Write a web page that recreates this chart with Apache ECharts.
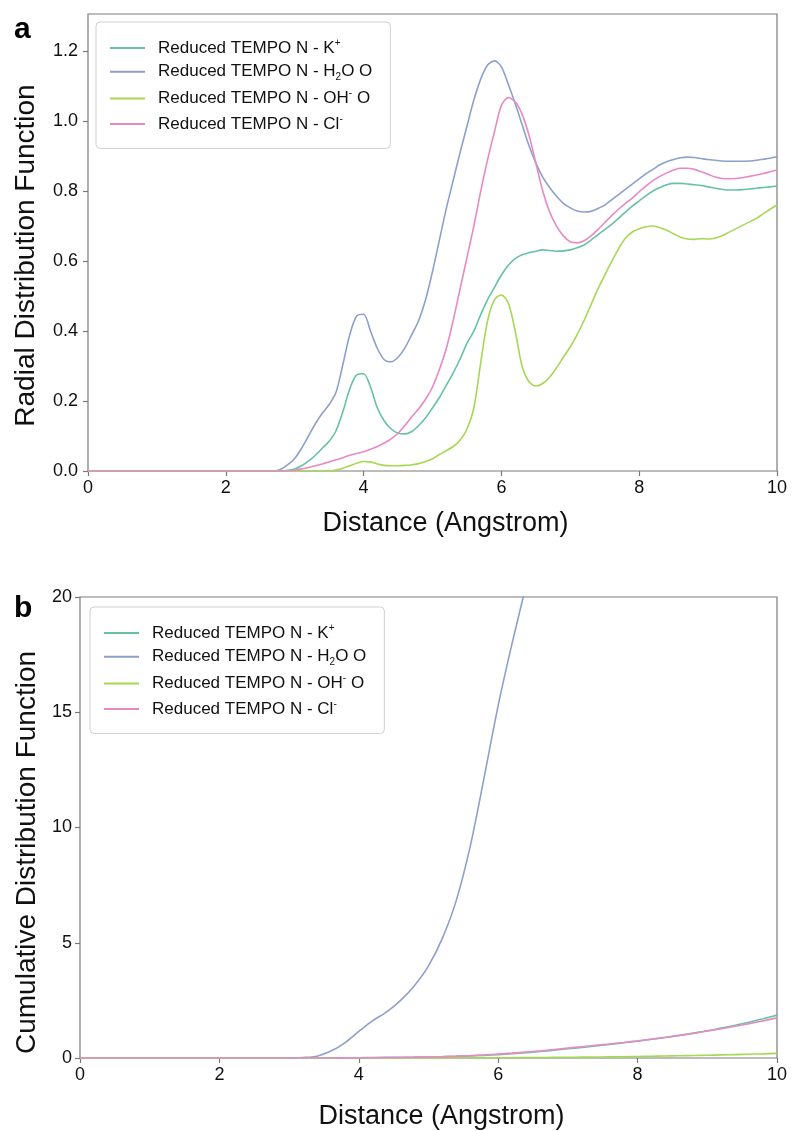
<!DOCTYPE html>
<html><head><meta charset="utf-8">
<script src="https://cdn.jsdelivr.net/npm/echarts@6/dist/echarts.min.js"></script>
<style>html,body{margin:0;padding:0;background:#fff;}#c{width:792px;height:1131px;}</style>
</head><body><div id="c"></div>
<script>
// ---------- data ----------
const seriesNames = ['Reduced TEMPO N - K+', 'Reduced TEMPO N - H2O O', 'Reduced TEMPO N - OH- O', 'Reduced TEMPO N - Cl-'];
const legendLabels = ['{t|Reduced TEMPO N - K}{sup|+}', '{t|Reduced TEMPO N - H}{sub|2}{t|O O}', '{t|Reduced TEMPO N - OH}{sup|-}{t| O}', '{t|Reduced TEMPO N - Cl}{sup|-}'];
const seriesColors = ['#66c2a5', '#8da0cb', '#a6d854', '#e78ac3'];

const xTicks = [0, 2, 4, 6, 8, 10];
const rdfTicks = [0, 0.2, 0.4, 0.6, 0.8, 1.0, 1.2];
const cdfTicks = [0, 5, 10, 15, 20];

const rdfDistance = [0,
  2.5, 2.6, 2.7, 2.8, 2.9,
  3.0, 3.1, 3.2, 3.3, 3.4, 3.5, 3.6, 3.7, 3.8, 3.9,
  4.0, 4.1, 4.2, 4.3, 4.4, 4.5, 4.6, 4.7, 4.8, 4.9,
  5.0, 5.1, 5.2, 5.3, 5.4, 5.5, 5.6, 5.7, 5.8, 5.9,
  6.0, 6.1, 6.2, 6.3, 6.4, 6.5, 6.6, 6.7, 6.8, 6.9,
  7.0, 7.1, 7.2, 7.3, 7.4, 7.5, 7.6, 7.7, 7.8, 7.9,
  8.0, 8.1, 8.2, 8.3, 8.4, 8.5, 8.6, 8.7, 8.8, 8.9,
  9.0, 9.1, 9.2, 9.3, 9.4, 9.5, 9.6, 9.7, 9.8, 9.9,
  10.0];

const rdfK = [0,
  0, 0, 0, 0, 0.002,
  0.006, 0.015, 0.028, 0.045, 0.065, 0.085, 0.115, 0.17, 0.235, 0.275,
  0.278, 0.24, 0.18, 0.143, 0.12, 0.108, 0.106, 0.113, 0.13, 0.152,
  0.18, 0.21, 0.245, 0.28, 0.32, 0.365, 0.40, 0.447, 0.49, 0.525,
  0.56, 0.588, 0.607, 0.618, 0.624, 0.628, 0.632, 0.63, 0.628, 0.629,
  0.632, 0.638, 0.646, 0.66, 0.675, 0.69, 0.705, 0.722, 0.74, 0.757,
  0.772, 0.787, 0.80, 0.81, 0.818, 0.822, 0.822, 0.82, 0.818, 0.816,
  0.812, 0.808, 0.805, 0.803, 0.803, 0.804, 0.806, 0.808, 0.81, 0.812,
  0.814];

const rdfWater = [0,
  0, 0, 0, 0.005, 0.018,
  0.036, 0.065, 0.10, 0.135, 0.165, 0.19, 0.225, 0.305, 0.39, 0.443,
  0.448, 0.40, 0.35, 0.318, 0.312, 0.325, 0.352, 0.39, 0.43, 0.49,
  0.57, 0.66, 0.75, 0.83, 0.91, 0.985, 1.06, 1.12, 1.16, 1.172,
  1.155, 1.105, 1.05, 0.99, 0.93, 0.88, 0.84, 0.81, 0.785, 0.765,
  0.752, 0.743, 0.74, 0.742, 0.75, 0.76, 0.775, 0.79, 0.805, 0.82,
  0.835, 0.85, 0.862, 0.875, 0.884, 0.89, 0.895, 0.897, 0.896, 0.893,
  0.89, 0.888, 0.886, 0.885, 0.885, 0.885, 0.886, 0.888, 0.891, 0.894,
  0.898];

const rdfOH = [0,
  0, 0, 0, 0, 0,
  0, 0, 0, 0, 0, 0, 0.003, 0.008, 0.015, 0.022,
  0.027, 0.026, 0.02, 0.016, 0.015, 0.015, 0.016, 0.018, 0.021, 0.027,
  0.035, 0.047, 0.058, 0.07, 0.088, 0.12, 0.18, 0.31, 0.43, 0.49,
  0.503, 0.48, 0.40, 0.30, 0.255, 0.243, 0.25, 0.268, 0.295, 0.325,
  0.355, 0.39, 0.43, 0.475, 0.52, 0.56, 0.598, 0.635, 0.665, 0.683,
  0.692, 0.698, 0.70, 0.695, 0.688, 0.678, 0.668, 0.663, 0.662, 0.664,
  0.663, 0.665, 0.672, 0.682, 0.692, 0.702, 0.712, 0.722, 0.735, 0.748,
  0.76];

const rdfCl = [0,
  0, 0, 0, 0, 0,
  0.002, 0.006, 0.01, 0.015, 0.02, 0.026, 0.032, 0.038, 0.045, 0.05,
  0.055, 0.062, 0.07, 0.08, 0.092, 0.108, 0.13, 0.155, 0.178, 0.205,
  0.24, 0.29, 0.35, 0.43, 0.52, 0.61, 0.70, 0.80, 0.89, 0.97,
  1.045, 1.067, 1.055, 1.02, 0.96, 0.88, 0.80, 0.74, 0.70, 0.672,
  0.655, 0.652, 0.658, 0.672, 0.69, 0.71, 0.73, 0.748, 0.765, 0.78,
  0.798, 0.815, 0.83, 0.842, 0.852, 0.86, 0.865, 0.865, 0.862, 0.855,
  0.848, 0.84, 0.836, 0.835, 0.836, 0.838, 0.842, 0.846, 0.85, 0.855,
  0.86];

const cdfDistance = [0, 2.8,
  3.0, 3.2, 3.4, 3.6, 3.8,
  4.0, 4.2, 4.4, 4.6, 4.8,
  5.0, 5.2, 5.4, 5.6, 5.8,
  6.0, 6.2, 6.4, 6.6, 6.8,
  7.0, 7.2, 7.4, 7.6, 7.8,
  8.0, 8.2, 8.4, 8.6, 8.8,
  9.0, 9.2, 9.4, 9.6, 9.8,
  10.0];

const cdfK = [0, 0,
  0, 0.001, 0.002, 0.004, 0.008,
  0.014, 0.02, 0.025, 0.03, 0.036,
  0.045, 0.056, 0.07, 0.09, 0.115,
  0.145, 0.185, 0.23, 0.28, 0.34,
  0.40, 0.46, 0.52, 0.59, 0.66,
  0.73, 0.81, 0.89, 0.98, 1.08,
  1.18, 1.30, 1.42, 1.55, 1.70,
  1.86];

// water CDF leaves the plot above 20 near 6.4 Angstrom
const cdfWater = [0, 0,
  0.003, 0.02, 0.08, 0.30, 0.66,
  1.15, 1.62, 2.0, 2.5, 3.15,
  4.0, 5.2, 6.85, 9.2, 12.2,
  15.3, 18.0, 20.5, 23.0];

const cdfOH = [0, 0,
  0, 0, 0, 0, 0,
  0, 0, 0, 0, 0,
  0.001, 0.001, 0.002, 0.003, 0.006,
  0.01, 0.014, 0.018, 0.022, 0.026,
  0.031, 0.036, 0.042, 0.049, 0.057,
  0.066, 0.076, 0.086, 0.097, 0.108,
  0.12, 0.134, 0.148, 0.163, 0.18,
  0.2];

const cdfCl = [0, 0,
  0, 0.001, 0.002, 0.003, 0.005,
  0.008, 0.012, 0.017, 0.024, 0.033,
  0.045, 0.06, 0.08, 0.105, 0.135,
  0.17, 0.21, 0.26, 0.31, 0.37,
  0.43, 0.49, 0.55, 0.61, 0.675,
  0.745, 0.82, 0.90, 0.98, 1.07,
  1.17, 1.27, 1.38, 1.49, 1.61,
  1.74];

// ---------- chart ----------
const FONT = "'Liberation Sans', Arial, sans-serif";
const AXIS_COLOR = '#7a7a7a';
function pairs(xs, ys) { const n = Math.min(xs.length, ys.length); const out = []; for (let i = 0; i < n; i++) out.push([xs[i], ys[i]]); return out; }

const rdfSets = [rdfK, rdfWater, rdfOH, rdfCl];
const cdfSets = [cdfK, cdfWater, cdfOH, cdfCl];

function xAxisCfg(gridIndex, nameGap) {
  return {
    type: 'value', gridIndex, min: 0, max: 10, interval: 2,
    name: 'Distance (Angstrom)', nameLocation: 'middle', nameGap,
    nameTextStyle: { fontSize: 27, color: '#111', fontFamily: FONT, padding: [0, 0, 0, 26] },
    axisLine: { show: false },
    axisTick: { show: true, inside: false, length: 5, customValues: xTicks, lineStyle: { color: AXIS_COLOR, width: 1.2 } },
    axisLabel: { fontSize: 18, color: '#111', fontFamily: FONT, margin: 8, customValues: xTicks },
    splitLine: { show: false }
  };
}

const legendRich = {
  t: { fontSize: 17, color: '#111', fontFamily: FONT, lineHeight: 20 },
  sup: { fontSize: 10, color: '#111', fontFamily: FONT, lineHeight: 11, verticalAlign: 'top' },
  sub: { fontSize: 10, color: '#111', fontFamily: FONT, lineHeight: 9, verticalAlign: 'bottom' }
};
function legendCfg(left, top) {
  return {
    orient: 'vertical', left, top,
    data: seriesNames,
    icon: 'rect', itemWidth: 35, itemHeight: 2, itemGap: 6.8,
    backgroundColor: '#fff', borderColor: '#cfcfcf', borderWidth: 1, borderRadius: 4,
    padding: [16, 18, 16, 14],
    selectedMode: false,
    formatter: name => legendLabels[seriesNames.indexOf(name)],
    textStyle: { rich: legendRich, padding: [0, 0, 0, 8] }
  };
}

const series = [];
for (let i = 0; i < 4; i++) {
  series.push({
    name: seriesNames[i], type: 'line', xAxisIndex: 0, yAxisIndex: 0,
    data: pairs(rdfDistance, rdfSets[i]), symbol: 'none', smooth: 0.3,
    lineStyle: { width: 1.6, color: seriesColors[i] }, itemStyle: { color: seriesColors[i] },
    clip: true, z: 2 + i
  });
}
for (let i = 0; i < 4; i++) {
  series.push({
    name: seriesNames[i], type: 'line', xAxisIndex: 1, yAxisIndex: 1,
    data: pairs(cdfDistance, cdfSets[i]), symbol: 'none', smooth: 0.3,
    lineStyle: { width: 1.6, color: seriesColors[i] }, itemStyle: { color: seriesColors[i] },
    clip: true, z: 2 + i
  });
}

const option = {
  animation: false,
  backgroundColor: '#fff',
  color: seriesColors,
  textStyle: { fontFamily: FONT },
  grid: [
    { left: 88, top: 14, width: 689, height: 457, show: true, borderColor: AXIS_COLOR, borderWidth: 1.2, containLabel: false },
    { left: 80, top: 597, width: 697, height: 462, show: true, borderColor: AXIS_COLOR, borderWidth: 1.2, containLabel: false }
  ],
  xAxis: [xAxisCfg(0, 39), xAxisCfg(1, 45)],
  yAxis: [
    {
      type: 'value', gridIndex: 0, min: 0, max: 1.306, interval: 0.2,
      name: 'Radial Distribution Function', nameLocation: 'middle', nameGap: 48,
      nameTextStyle: { fontSize: 28, color: '#111', fontFamily: FONT, padding: [0, 26, 0, 0] },
      axisLine: { show: false },
      axisTick: { show: true, inside: false, length: 5, customValues: rdfTicks, lineStyle: { color: AXIS_COLOR, width: 1.2 } },
      axisLabel: { fontSize: 18, color: '#111', fontFamily: FONT, margin: 10, customValues: rdfTicks, formatter: v => Number(v).toFixed(1) },
      splitLine: { show: false }
    },
    {
      type: 'value', gridIndex: 1, min: 0, max: 20, interval: 5,
      name: 'Cumulative Distribution Function', nameLocation: 'middle', nameGap: 37,
      nameTextStyle: { fontSize: 28, color: '#111', fontFamily: FONT, padding: [0, 50, 0, 0] },
      axisLine: { show: false },
      axisTick: { show: true, inside: false, length: 5, customValues: cdfTicks, lineStyle: { color: AXIS_COLOR, width: 1.2 } },
      axisLabel: { fontSize: 18, color: '#111', fontFamily: FONT, margin: 8, customValues: cdfTicks },
      splitLine: { show: false }
    }
  ],
  legend: [legendCfg(96, 22), legendCfg(90, 607)],
  graphic: [
    { type: 'text', left: 14, top: 15, style: { text: 'a', font: "bold 30px 'Liberation Sans', Arial, sans-serif", fill: '#000' } },
    { type: 'text', left: 14, top: 594, style: { text: 'b', font: "bold 30px 'Liberation Sans', Arial, sans-serif", fill: '#000' } }
  ],
  series
};

const chart = echarts.init(document.getElementById('c'), null, { renderer: 'canvas' });
chart.setOption(option);
</script>
</body></html>
